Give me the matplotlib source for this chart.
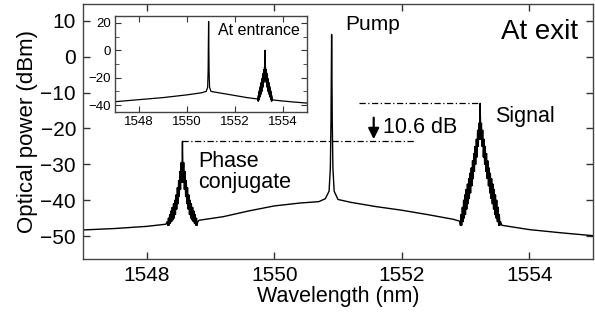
import matplotlib
matplotlib.use("Agg")
import matplotlib.pyplot as plt

plt.rcParams['font.family'] = ['Liberation Sans', 'DejaVu Sans']

# ---------------- data: spectrum at exit ----------------
bg_left_wl = [1547.0, 1547.5, 1548.0, 1548.3]
bg_left_db = [-48.3, -47.9, -47.3, -46.7]

conj_wl = [1548.32, 1548.34, 1548.36, 1548.38, 1548.40, 1548.42, 1548.44, 1548.46,
           1548.48, 1548.50, 1548.52, 1548.54, 1548.56, 1548.58, 1548.60, 1548.62,
           1548.64, 1548.66, 1548.68, 1548.70, 1548.72, 1548.74, 1548.76, 1548.78, 1548.80]
conj_top = [-46, -45, -44, -43, -42, -41, -40, -38.5, -36.5, -34.5, -32, -29.5, -23.6,
            -29.5, -32, -34.5, -36.5, -38.5, -40, -41, -42, -43, -44, -45, -46]
conj_valley = [-47, -47, -46.5, -46, -45.5, -45, -44, -42.5, -41, -39, -37, -35,
               -35, -37, -39, -41, -42.5, -44, -45, -45.5, -46, -46.5, -47, -47]

bg_mid_wl = [1548.82, 1549.2, 1549.6, 1550.0, 1550.4, 1550.7, 1550.80, 1550.86, 1550.88,
             1550.89, 1550.90, 1550.91, 1550.92, 1550.94, 1551.0, 1551.2, 1551.6,
             1552.0, 1552.4, 1552.8, 1552.9]
bg_mid_db = [-45.6, -44.6, -43.0, -41.6, -40.8, -40.4, -39.6, -37.5, -31, -18, 6.2,
             -18, -31, -37.5, -39.8, -40.6, -41.8, -42.8, -44.0, -45.3, -45.8]

sig_wl = [1552.91, 1552.93, 1552.95, 1552.97, 1552.99, 1553.01, 1553.03, 1553.05,
          1553.07, 1553.09, 1553.11, 1553.13, 1553.15, 1553.17, 1553.19, 1553.21,
          1553.23, 1553.25, 1553.27, 1553.29, 1553.31, 1553.33, 1553.35, 1553.37,
          1553.39, 1553.41, 1553.43, 1553.45, 1553.47, 1553.49, 1553.51, 1553.53, 1553.55]
sig_top = [-46, -44, -42, -40, -38.5, -37, -35.5, -34, -32.5, -31, -29, -27, -25, -23,
           -20.5, -18.5, -13.0, -18.5, -20.5, -23, -25, -27, -29, -31, -32.5, -34,
           -35.5, -37, -38.5, -40, -42, -44, -46]
sig_valley = [-47, -47, -46, -45, -44, -42.5, -41, -39.5, -38, -36, -34, -32, -30, -28,
              -25, -23, -23, -25, -28, -30, -32, -34, -36, -38, -39.5, -41, -42.5, -44,
              -45, -46, -47, -47]

bg_right_wl = [1553.57, 1554.0, 1554.5, 1555.0]
bg_right_db = [-47.0, -48.2, -49.1, -49.9]

# ---------------- data: spectrum at entrance (inset) ----------------
in_bg1_wl = [1547.0, 1548.0, 1549.0, 1550.0, 1550.6, 1550.80, 1550.86, 1550.88, 1550.90,
             1550.92, 1550.94, 1551.0, 1551.5, 1552.0, 1552.5, 1552.93]
in_bg1_db = [-37.5, -36.0, -34.5, -32.5, -31.0, -30.0, -27, -15, 21, -15, -27, -30,
             -31.5, -33.0, -34.5, -35.5]
in_sig_wl = [1552.95, 1552.97, 1552.99, 1553.01, 1553.03, 1553.05, 1553.07, 1553.09,
             1553.11, 1553.13, 1553.15, 1553.17, 1553.19, 1553.21, 1553.23, 1553.25,
             1553.27, 1553.29, 1553.31, 1553.33, 1553.35, 1553.37, 1553.39, 1553.41,
             1553.43, 1553.45, 1553.47, 1553.49, 1553.51, 1553.53, 1553.55]
in_sig_top = [-35, -33, -31, -29.5, -28, -26.5, -25, -23.5, -22, -20.5, -19, -17, -15.5,
              -14, -12, 0, -12, -14, -15.5, -17, -19, -20.5, -22, -23.5, -25, -26.5,
              -28, -29.5, -31, -33, -35]
in_sig_valley = [-37, -37, -36, -35, -34, -33, -32, -31, -30, -28.5, -27, -25, -23.5,
                 -22, -20, -20, -22, -23.5, -25, -27, -28.5, -30, -31, -32, -33, -34,
                 -35, -36, -37, -37]
in_bg2_wl = [1553.57, 1554.0, 1554.5, 1555.0]
in_bg2_db = [-36.2, -37.0, -37.8, -38.5]

# annotation values
signal_level = -13.0
conj_level = -23.6
signal_peak_wl = 1553.23
conj_peak_wl = 1548.56


def comb(wl, top, valley):
    xs, ys = [], []
    for i in range(len(wl)):
        xs.append(wl[i]); ys.append(top[i])
        if i < len(valley):
            xs.append((wl[i] + wl[i + 1]) / 2); ys.append(valley[i])
    return xs, ys


cx, cy = comb(conj_wl, conj_top, conj_valley)
sx, sy = comb(sig_wl, sig_top, sig_valley)
exit_x = bg_left_wl + cx + bg_mid_wl + sx + bg_right_wl
exit_y = bg_left_db + cy + bg_mid_db + sy + bg_right_db

ix, iy = comb(in_sig_wl, in_sig_top, in_sig_valley)
ent_x = in_bg1_wl + ix + in_bg2_wl
ent_y = in_bg1_db + iy + in_bg2_db

# ---------------- figure ----------------
fig = plt.figure(figsize=(5.95, 3.21), dpi=100)
ax = fig.add_axes([83 / 595, 1 - 259 / 321, 510 / 595, 255 / 321])
ax.plot(exit_x, exit_y, color='black', lw=1.0)
ax.set_xlim(1547, 1555)
ax.set_ylim(-56.4, 14.7)
ax.set_xticks([1548, 1550, 1552, 1554])
ax.set_yticks([-50, -40, -30, -20, -10, 0, 10])
ax.tick_params(direction='in', top=True, right=True, length=5, width=1,
               labelsize=15, pad=5, color='#333333')
for s in ax.spines.values():
    s.set_color('#444444')
    s.set_linewidth(1.0)
ax.set_xlabel('Wavelength (nm)', fontsize=15.5, labelpad=1)
ax.set_ylabel('Optical power (dBm)', fontsize=16, labelpad=2)

dash = (0, (5, 2, 1, 2))
ax.plot([1551.33, signal_peak_wl], [signal_level, signal_level], color='black',
        lw=0.9, linestyle=dash)
ax.plot([conj_peak_wl, 1552.2], [conj_level, conj_level], color='black',
        lw=0.9, linestyle=dash)
ax.annotate('', xy=(1551.56, -23.0), xytext=(1551.56, -17.0),
            arrowprops=dict(arrowstyle='-|>', color='black', lw=1.6,
                            mutation_scale=16, shrinkA=0, shrinkB=0))
ax.text(1551.70, -21.3, '10.6 dB', fontsize=15.5, ha='left', va='baseline')
ax.text(1551.12, 7.5, 'Pump', fontsize=15, ha='left', va='baseline')
ax.text(1553.55, 5.0, 'At exit', fontsize=20, ha='left', va='baseline')
ax.text(1553.47, -18.2, 'Signal', fontsize=15.5, ha='left', va='baseline')
ax.text(1548.80, -30.8, 'Phase', fontsize=15.5, ha='left', va='baseline')
ax.text(1548.80, -36.6, 'conjugate', fontsize=15.5, ha='left', va='baseline')

# inset
ins = fig.add_axes([115 / 595, 1 - 112 / 321, 192 / 595, 96 / 321])
ins.plot(ent_x, ent_y, color='black', lw=0.9)
ins.set_xlim(1547, 1555)
ins.set_ylim(-45, 25)
ins.set_xticks([1548, 1550, 1552, 1554])
ins.set_yticks([-40, -20, 0, 20])
ins.set_yticks([-30, -10, 10], minor=True)
ins.tick_params(which='both', direction='in', top=True, right=True, labelsize=9.5,
                pad=3, color='#333333')
ins.tick_params(which='major', length=4)
ins.tick_params(which='minor', length=3)
for s in ins.spines.values():
    s.set_color('#444444')
    s.set_linewidth(1.0)
ins.text(1551.29, 11.1, 'At entrance', fontsize=11.5, ha='left', va='baseline')

fig.savefig('out.png', dpi=100)
